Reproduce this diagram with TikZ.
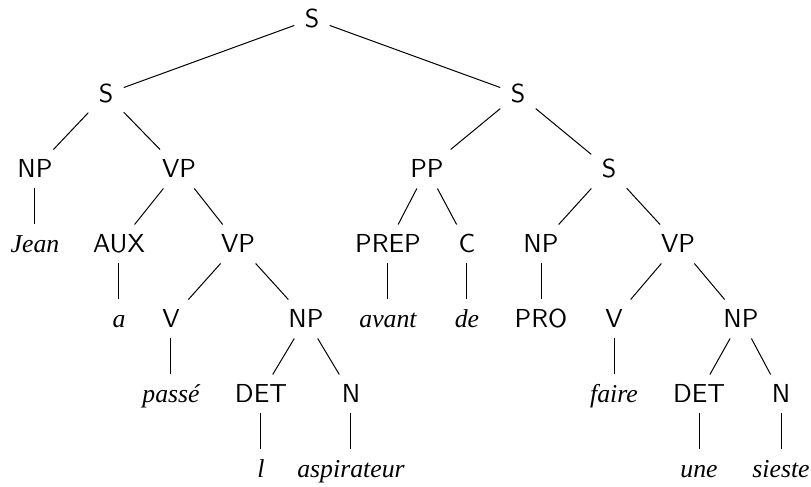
\documentclass[tikz,border=0pt]{standalone}
\usepackage{fontspec}
\setmainfont{Liberation Serif}
\usepackage{tikz}
\usetikzlibrary{positioning}

\begin{document}
\begin{tikzpicture}[
    on grid,
    every node/.style={inner sep=4pt, text height=7.2pt, text depth=0pt},
    cat/.style={font=\fontsize{10.4}{12}\selectfont\sffamily},
    word/.style={font=\fontsize{10.3}{12}\selectfont\rmfamily\itshape},
    branch/.style={line width=0.4pt}
]

% Top
\node[cat] (root) {S};
\useasboundingbox ([shift={(-124.8pt,7.2pt)}]root.center) rectangle ++(324.4pt,-194.4pt);

% Level 1
\node[cat, below left=30pt and 82.4pt of root] (sL) {S};
\node[cat, below right=30pt and 82.4pt of root] (sR) {S};

% Left clause
\node[cat, below left=30pt and 28.4pt of sL] (npJ) {NP};
\node[cat, below right=30pt and 29.2pt of sL] (vpA) {VP};
\node[word, below=30pt of npJ] (jean) {Jean};
\node[cat, below left=30pt and 24pt of vpA] (aux) {AUX};
\node[cat, below right=30pt and 23.6pt of vpA] (vpB) {VP};
\node[word, below=30pt of aux] (a) {a};
\node[cat, below left=30pt and 26.8pt of vpB] (vB) {V};
\node[cat, below right=30pt and 27.2pt of vpB] (npB) {NP};
\node[word, below=30pt of vB] (passe) {passé};
\node[cat, below left=30pt and 18pt of npB] (detB) {DET};
\node[cat, below right=30pt and 18pt of npB] (nB) {N};
\node[word, below=30pt of detB] (l) {l};
\node[word, below=30pt of nB] (aspi) {aspirateur};

% Right clause
\node[cat, below left=30pt and 36.4pt of sR] (pp) {PP};
\node[cat, below right=30pt and 36.4pt of sR] (sS) {S};
\node[cat, below left=30pt and 15.6pt of pp] (prep) {PREP};
\node[cat, below right=30pt and 16pt of pp] (c) {C};
\node[word, below=30pt of prep] (avant) {avant};
\node[word, below=30pt of c] (de) {de};
\node[cat, below left=30pt and 27.2pt of sS] (npP) {NP};
\node[cat, below right=30pt and 27.6pt of sS] (vpF) {VP};
\node[cat, below=30pt of npP] (pro) {PRO};
\node[cat, below left=30pt and 25.6pt of vpF] (vF) {V};
\node[cat, below right=30pt and 25.2pt of vpF] (npU) {NP};
\node[word, below=30pt of vF] (faire) {faire};
\node[cat, below left=30pt and 16.8pt of npU] (detU) {DET};
\node[cat, below right=30pt and 16pt of npU] (nS) {N};
\node[word, below=30pt of detU] (une) {une};
\node[word, below=30pt of nS] (sieste) {sieste};

% Branches
\draw[branch] (root) -- (sL);
\draw[branch] (root) -- (sR);
\draw[branch] (sL) -- (npJ);
\draw[branch] (sL) -- (vpA);
\draw[branch] (npJ) -- (jean);
\draw[branch] (vpA) -- (aux);
\draw[branch] (vpA) -- (vpB);
\draw[branch] (aux) -- (a);
\draw[branch] (vpB) -- (vB);
\draw[branch] (vpB) -- (npB);
\draw[branch] (vB) -- (passe);
\draw[branch] (npB) -- (detB);
\draw[branch] (npB) -- (nB);
\draw[branch] (detB) -- (l);
\draw[branch] (nB) -- (aspi);
\draw[branch] (sR) -- (pp);
\draw[branch] (sR) -- (sS);
\draw[branch] (pp) -- (prep);
\draw[branch] (pp) -- (c);
\draw[branch] (prep) -- (avant);
\draw[branch] (c) -- (de);
\draw[branch] (sS) -- (npP);
\draw[branch] (sS) -- (vpF);
\draw[branch] (npP) -- (pro);
\draw[branch] (vpF) -- (vF);
\draw[branch] (vpF) -- (npU);
\draw[branch] (vF) -- (faire);
\draw[branch] (npU) -- (detU);
\draw[branch] (npU) -- (nS);
\draw[branch] (detU) -- (une);
\draw[branch] (nS) -- (sieste);

\end{tikzpicture}
\end{document}
